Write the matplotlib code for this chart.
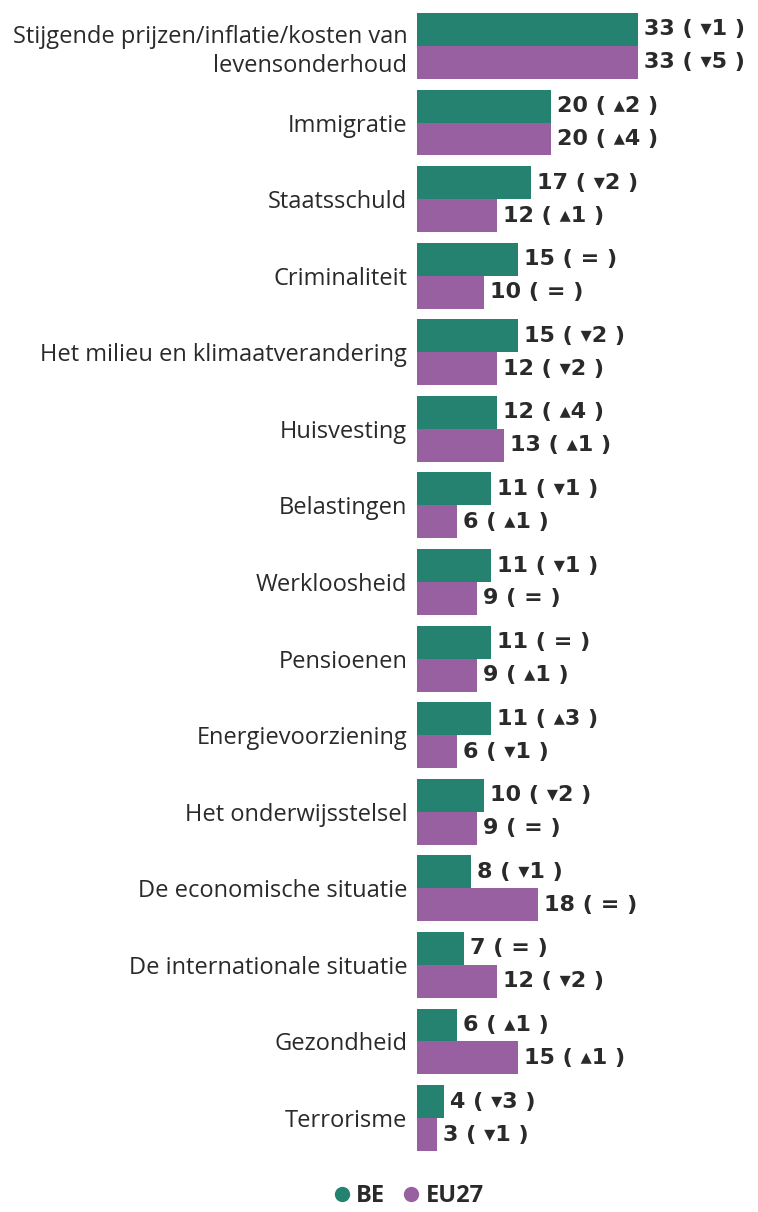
import matplotlib
matplotlib.use('Agg')
import matplotlib.pyplot as plt
from matplotlib.lines import Line2D
import numpy as np

categories = [
    "Stijgende prijzen/inflatie/kosten van\nlevensonderhoud",
    "Immigratie",
    "Staatsschuld",
    "Criminaliteit",
    "Het milieu en klimaatverandering",
    "Huisvesting",
    "Belastingen",
    "Werkloosheid",
    "Pensioenen",
    "Energievoorziening",
    "Het onderwijsstelsel",
    "De economische situatie",
    "De internationale situatie",
    "Gezondheid",
    "Terrorisme",
]
be = [33, 20, 17, 15, 15, 12, 11, 11, 11, 11, 10, 8, 7, 6, 4]
eu27 = [33, 20, 12, 10, 12, 13, 6, 9, 9, 6, 9, 18, 12, 15, 3]
be_change = [-1, 2, -2, 0, -2, 4, -1, -1, 0, 3, -2, -1, 0, 1, -3]
eu27_change = [-5, 4, 1, 0, -2, 1, 1, 0, 1, -1, 0, 0, -2, 1, -1]

GREEN = '#268270'
PURPLE = '#9860a0'
TEXT = '#2a2a2a'
plt.rcParams['font.family'] = ['Open Sans', 'DejaVu Sans']


def change_label(value, change):
    if change == 0:
        return f"{value} ( = )"
    arrow = '\u25b4' if change > 0 else '\u25be'
    return f"{value} ( {arrow}{abs(change)} )"


fig = plt.figure(figsize=(7.58, 12.12), dpi=100)
ax = fig.add_axes([417 / 758, 1 - 1164 / 1212, 341 / 758, 1164 / 1212])

y = np.arange(len(categories))
h = 0.43
ax.barh(y - h / 2, be, height=h, color=GREEN, linewidth=0)
ax.barh(y + h / 2, eu27, height=h, color=PURPLE, linewidth=0)

for i in range(len(categories)):
    ax.text(be[i] + 0.9, y[i] - h / 2, change_label(be[i], be_change[i]),
            va='center', ha='left', fontsize=16, fontweight='bold', color=TEXT,
            family=['DejaVu Sans'])
    ax.text(eu27[i] + 0.9, y[i] + h / 2, change_label(eu27[i], eu27_change[i]),
            va='center', ha='left', fontsize=16, fontweight='bold', color=TEXT,
            family=['DejaVu Sans'])

ax.set_yticks(y)
ax.set_yticklabels(categories, fontsize=17, color=TEXT, linespacing=1.3)
ax.tick_params(axis='y', length=0, pad=7)
ax.set_xticks([])
ax.set_xlim(0, 341 / 6.7)
ax.set_ylim(14.6, -0.6)
for s in ax.spines.values():
    s.set_visible(False)

handles = [
    Line2D([], [], marker='o', ls='', color=GREEN, markersize=10),
    Line2D([], [], marker='o', ls='', color=PURPLE, markersize=10),
]
leg = fig.legend(handles, ['BE', 'EU27'], loc='center', bbox_to_anchor=(407 / 758, 1 - 1196 / 1212),
                 ncol=2, frameon=False, handletextpad=0.1, columnspacing=0.6,
                 handlelength=1.0, borderpad=0.1, prop={'size': 17, 'weight': 'bold'})
for t in leg.get_texts():
    t.set_color(TEXT)

fig.savefig('out.png', dpi=100)
